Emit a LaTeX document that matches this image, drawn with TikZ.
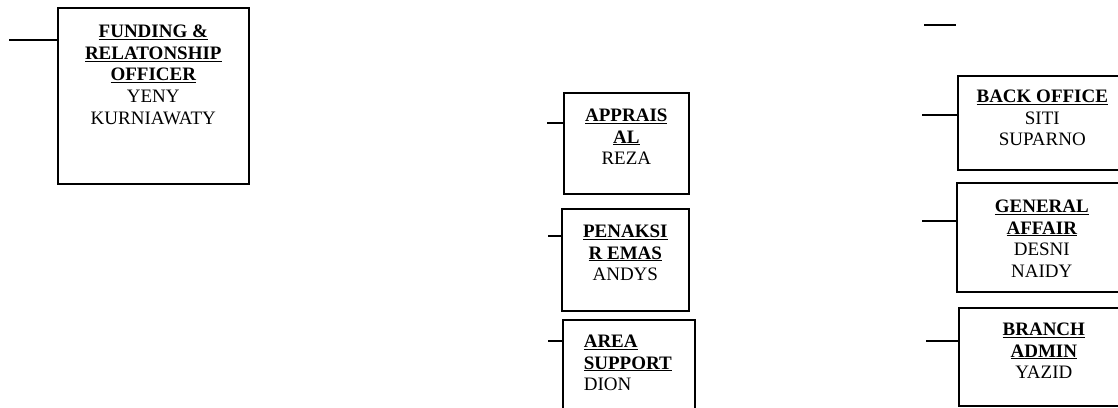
\documentclass[tikz,border=0pt]{standalone}
\usepackage{fontspec}
\setmainfont{Liberation Serif}
\newcommand{\unitlabel}[4]{\parbox[t][#2][t]{#1}{\vspace*{#3}#4\par}}
\newcommand{\unithead}[1]{\textbf{\underline{#1}}}

\begin{document}
\begin{tikzpicture}[x=1pt,y=-1pt,
    unit/.style={draw,line width=1.6pt,inner sep=0pt,anchor=north west,
      font=\fontsize{19}{21.7}\selectfont},
    stub/.style={line width=1.5pt}]
  \useasboundingbox (0,0) rectangle (1118,407);
  \clip (0,0) rectangle (1118,407);

  % left column
  \node[unit] (fro) at (57,7) {\unitlabel{191pt}{176pt}{17pt}{\centering
    \unithead{FUNDING \&}\\\unithead{RELATONSHIP}\\\unithead{OFFICER}\\YENY\\KURNIAWATY}};

  % middle column
  \node[unit] (apr) at (563,92) {\unitlabel{125pt}{101pt}{16pt}{\centering
    \unithead{APPRAIS}\\\unithead{AL}\\REZA}};
  \node[unit] (pen) at (561,208) {\unitlabel{127pt}{102pt}{16pt}{\centering
    \unithead{PENAKSI}\\\unithead{R EMAS}\\ANDYS}};
  \node[unit] (are) at (562,319) {\unitlabel{132pt}{110pt}{15pt}{\leftskip=21pt
    \unithead{AREA}\\\unithead{SUPPORT}\\DION}};

  % right column
  \node[unit] (bof) at (957,75) {\unitlabel{169pt}{94pt}{14pt}{\centering
    \unithead{BACK OFFICE}\\SITI\\SUPARNO}};
  \node[unit] (gaf) at (956,182) {\unitlabel{170pt}{109pt}{17pt}{\centering
    \unithead{GENERAL}\\\unithead{AFFAIR}\\DESNI\\NAIDY}};
  \node[unit] (bra) at (958,307) {\unitlabel{170pt}{98pt}{15pt}{\centering
    \unithead{BRANCH}\\\unithead{ADMIN}\\YAZID}};

  % stubs
  \coordinate (fro-s) at (9,40);
  \coordinate (apr-s) at (547,123);
  \coordinate (pen-s) at (548,236);
  \coordinate (are-s) at (548,341);
  \coordinate (top-a) at (924,25);
  \coordinate (top-b) at (956,25);
  \coordinate (bof-s) at (922,115);
  \coordinate (gaf-s) at (922,221);
  \coordinate (bra-s) at (926,341);
  \draw[stub] (fro-s) -- (fro-s -| fro.west);
  \draw[stub] (apr-s) -- (apr-s -| apr.west);
  \draw[stub] (pen-s) -- (pen-s -| pen.west);
  \draw[stub] (are-s) -- (are-s -| are.west);
  \draw[stub] (top-a) -- (top-b);
  \draw[stub] (bof-s) -- (bof-s -| bof.west);
  \draw[stub] (gaf-s) -- (gaf-s -| gaf.west);
  \draw[stub] (bra-s) -- (bra-s -| bra.west);
\end{tikzpicture}
\end{document}
